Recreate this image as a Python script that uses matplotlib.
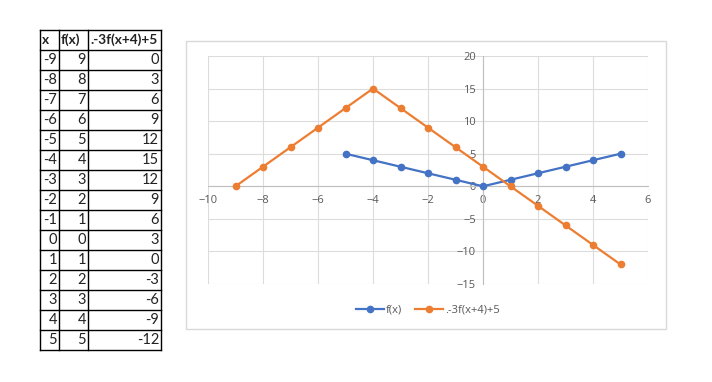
import matplotlib
matplotlib.use("Agg")
import matplotlib.pyplot as plt
from matplotlib.patches import Rectangle
from matplotlib.lines import Line2D

# ---- data ----
table_x = [-9, -8, -7, -6, -5, -4, -3, -2, -1, 0, 1, 2, 3, 4, 5]
table_fx = [9, 8, 7, 6, 5, 4, 3, 2, 1, 0, 1, 2, 3, 4, 5]
table_g = [0, 3, 6, 9, 12, 15, 12, 9, 6, 3, 0, -3, -6, -9, -12]
headers = ["x", "f(x)", ".-3f(x+4)+5"]

fx_x = [-5, -4, -3, -2, -1, 0, 1, 2, 3, 4, 5]
fx_y = [5, 4, 3, 2, 1, 0, 1, 2, 3, 4, 5]
g_x = table_x
g_y = table_g
label_f = "f(x)"
label_g = ".-3f(x+4)+5"

x_ticks = [-10, -8, -6, -4, -2, 0, 2, 4, 6]
y_ticks = [-15, -10, -5, 0, 5, 10, 15, 20]

W, H = 712, 382
fig = plt.figure(figsize=(W / 100, H / 100), dpi=100)
fig.patch.set_facecolor("white")

def fx(px):
    return px / W

def fy(py):
    return 1 - py / H

# ---- table ----
col_edges = [40, 59, 88, 161]
top = 30
row_h = 20
nrows = len(table_x) + 1
for ce in col_edges:
    fig.add_artist(Line2D([fx(ce), fx(ce)], [fy(top), fy(top + nrows * row_h)],
                          color="black", lw=1.0))
for r in range(nrows + 1):
    yy = top + r * row_h
    fig.add_artist(Line2D([fx(col_edges[0]), fx(col_edges[-1])], [fy(yy), fy(yy)],
                          color="black", lw=1.0))
tfont = dict(family=["Lato", "DejaVu Sans"], color="#222222")
for c, h in enumerate(headers):
    fig.text(fx(col_edges[c] + 2), fy(top + row_h / 2), h, ha="left", va="center",
             fontweight="bold", fontsize=9.8, **tfont)
for r in range(len(table_x)):
    yc = fy(top + (r + 1.5) * row_h)
    vals = [table_x[r], table_fx[r], table_g[r]]
    for c, v in enumerate(vals):
        fig.text(fx(col_edges[c + 1] - 2), yc, str(v), ha="right", va="center",
                 fontsize=10.5, **tfont)

# ---- chart frame ----
fig.add_artist(Rectangle((fx(186), fy(329)), fx(666) - fx(186), fy(41) - fy(329),
                         transform=fig.transFigure, fill=False, edgecolor="#d9d9d9", lw=1.0))

# ---- chart ----
ax = fig.add_axes([fx(208), fy(284), fx(648) - fx(208), fy(56) - fy(284)])
ax.set_xlim(-10, 6)
ax.set_ylim(-15, 20)
ax.set_xticks(x_ticks)
ax.set_yticks(y_ticks)
ax.grid(True, color="#dcdcdc", lw=0.8)
ax.set_axisbelow(True)
for s in ["top", "right"]:
    ax.spines[s].set_visible(False)
ax.spines["left"].set_position(("data", 0))
ax.spines["bottom"].set_position(("data", 0))
ax.spines["left"].set_color("#bfbfbf")
ax.spines["bottom"].set_color("#bfbfbf")
ax.tick_params(length=0, labelsize=8, colors="#595959")
ax.tick_params(axis="y", pad=5)
ax.tick_params(axis="x", pad=6)
for lab in ax.get_xticklabels() + ax.get_yticklabels():
    lab.set_fontfamily(["Open Sans", "DejaVu Sans"])

ax.plot(fx_x, fx_y, color="#4472C4", lw=1.6, marker="o", markersize=4.5, label=label_f, zorder=3)
ax.plot(g_x, g_y, color="#ED7D31", lw=1.6, marker="o", markersize=4.5, label=label_g, zorder=3)

leg = fig.legend(loc="center", bbox_to_anchor=(fx(428), fy(310)), ncol=2, frameon=False,
                 prop={"family": ["Open Sans", "DejaVu Sans"], "size": 8},
                 handlelength=2.5, handletextpad=0.2, columnspacing=1.2)
for t in leg.get_texts():
    t.set_color("#595959")

fig.savefig("out.png", dpi=100)
